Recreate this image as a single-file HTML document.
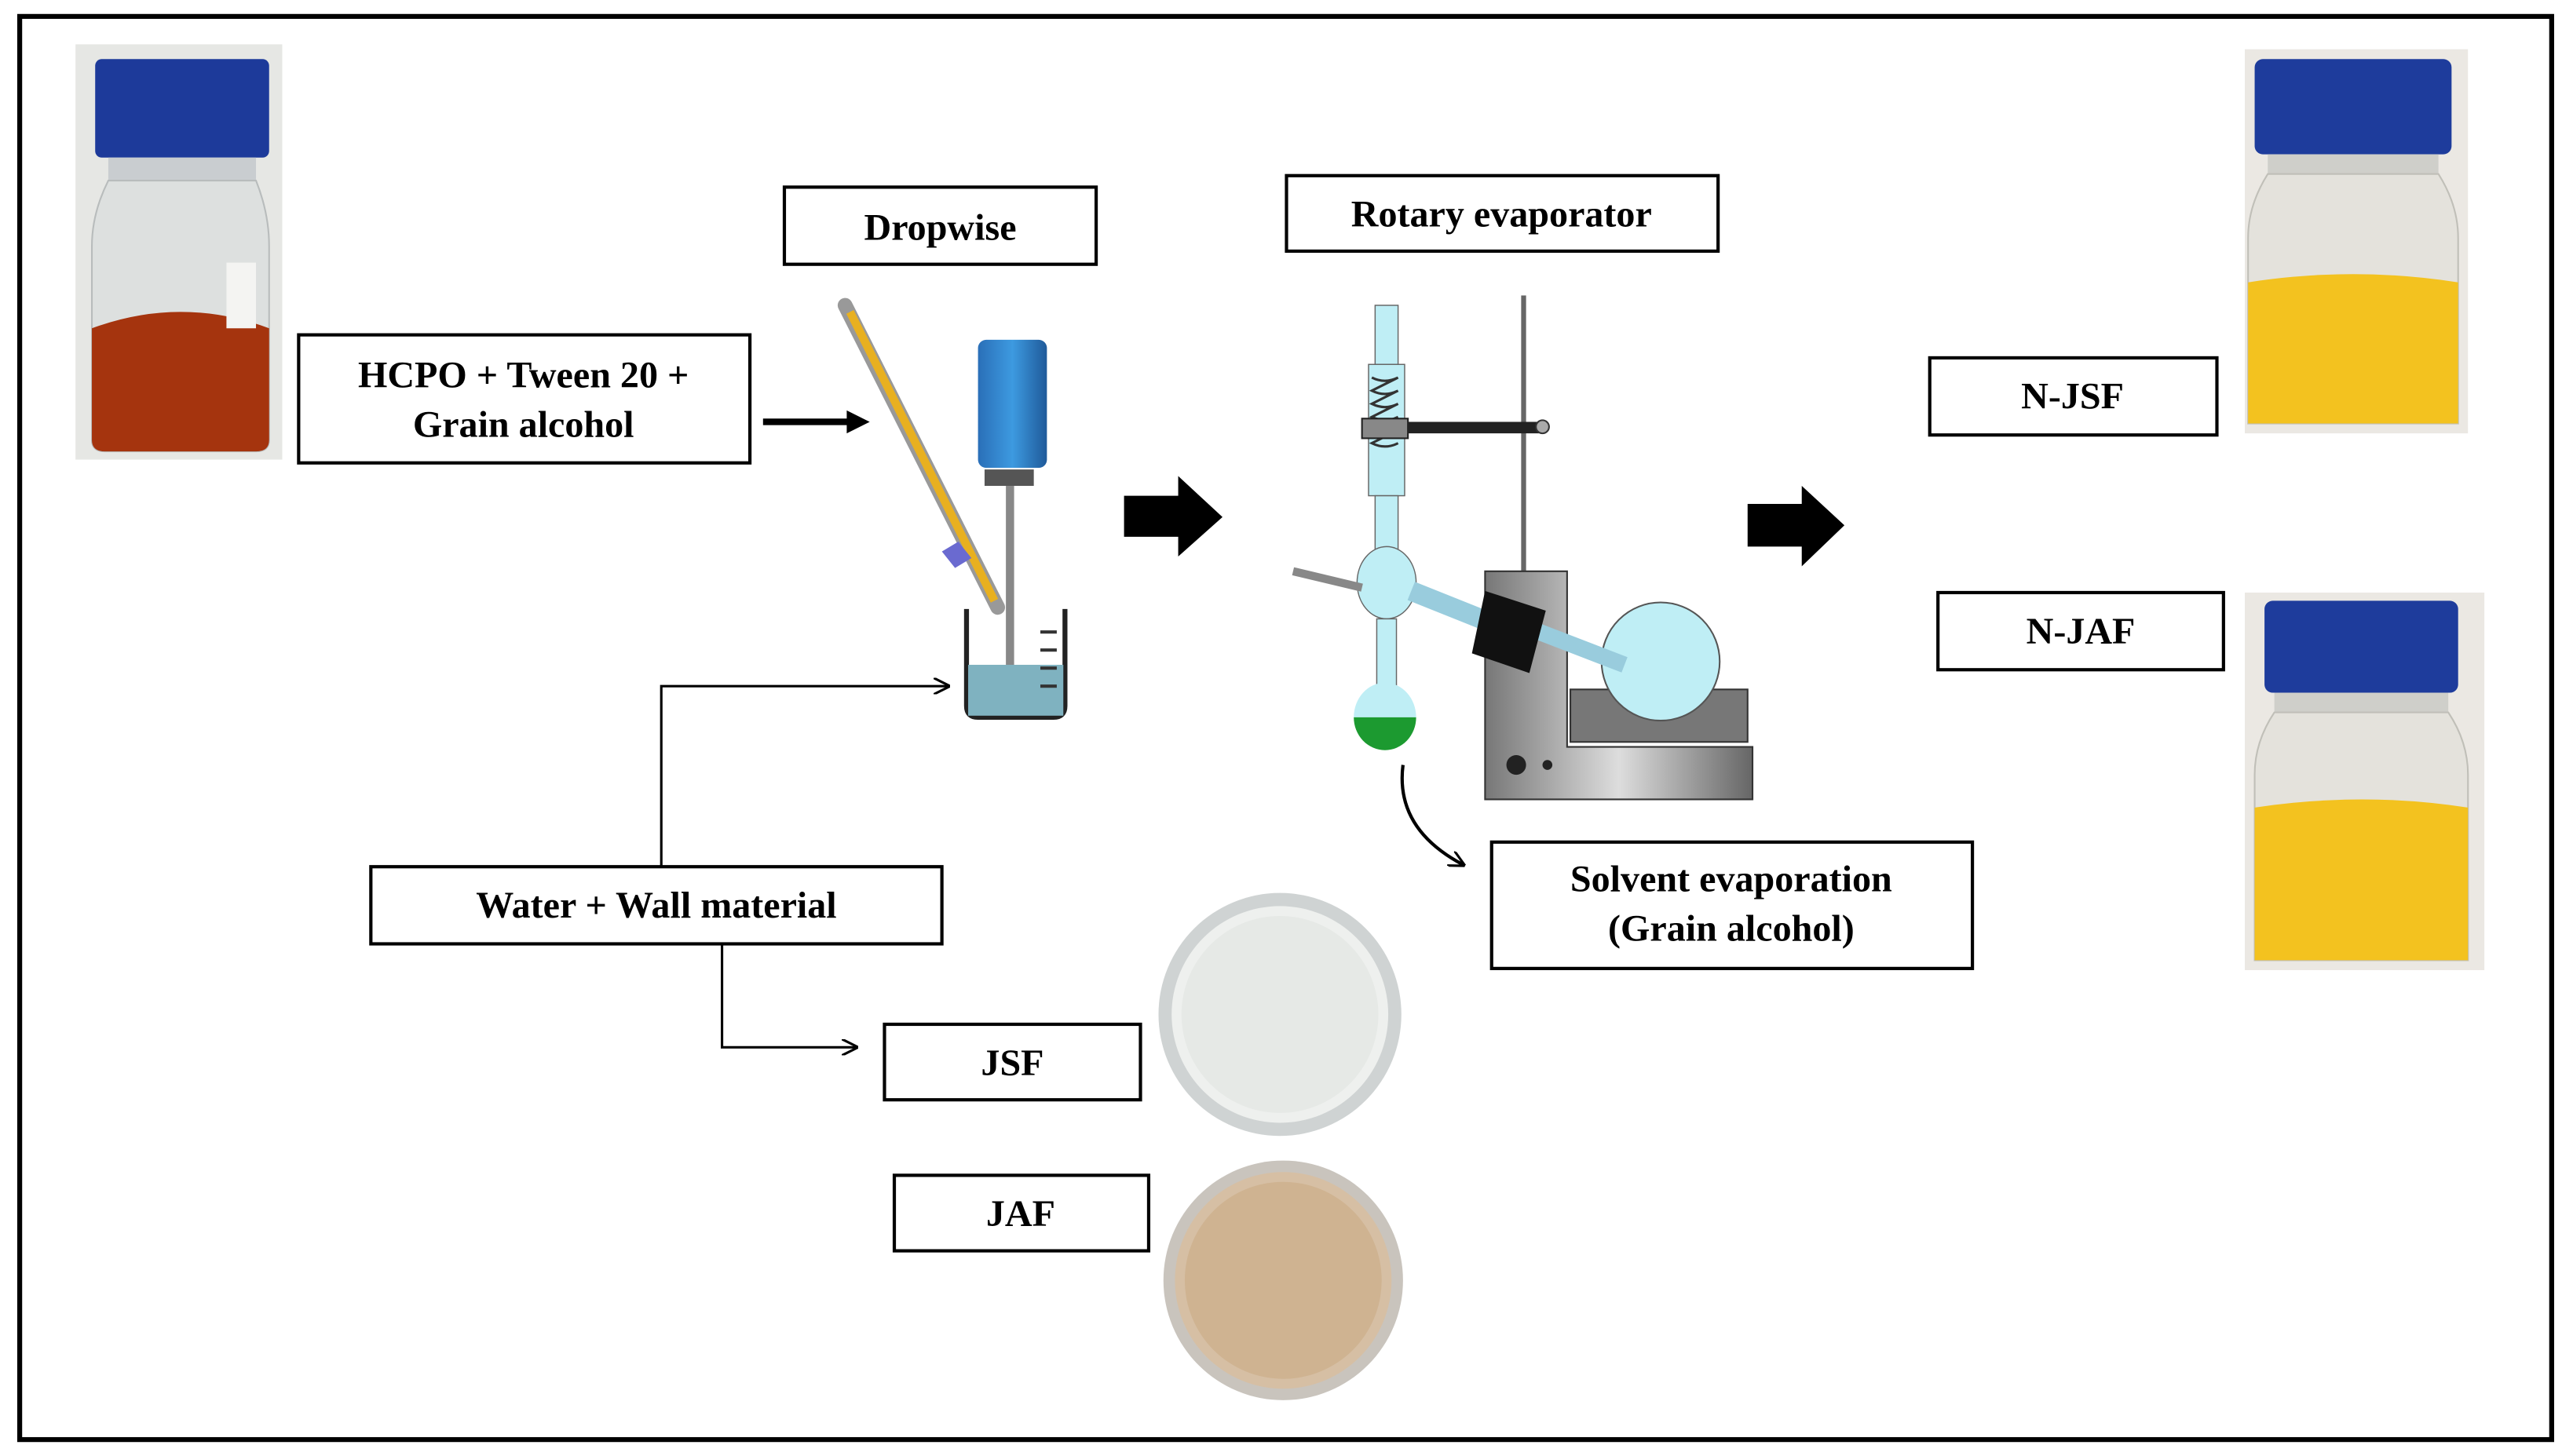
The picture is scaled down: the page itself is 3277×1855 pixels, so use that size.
<!DOCTYPE html>
<html><head><meta charset="utf-8"><style>html,body{margin:0;padding:0;background:#fff}svg{display:block}</style></head>
<body>
<svg width="3277" height="1855" viewBox="0 0 1568 887" preserveAspectRatio="none" xmlns="http://www.w3.org/2000/svg" font-family="'Liberation Serif',serif" font-weight="bold">
<defs>
<marker id="ah" markerWidth="10" markerHeight="10" refX="9" refY="5" orient="auto" markerUnits="userSpaceOnUse"><path d="M0,0 L10,5 L0,10" fill="none" stroke="#000" stroke-width="1.5"/></marker>
<linearGradient id="gm" x1="0" x2="1"><stop offset="0" stop-color="#777"/><stop offset=".5" stop-color="#ddd"/><stop offset="1" stop-color="#666"/></linearGradient>
<linearGradient id="blue" x1="0" x2="1"><stop offset="0" stop-color="#2a6fb8"/><stop offset=".5" stop-color="#3d9ae0"/><stop offset="1" stop-color="#1f5a9a"/></linearGradient>
</defs>
<rect x="12" y="10" width="1543" height="867" fill="#fff" stroke="#000" stroke-width="3"/>

<!-- bottle left -->
<rect x="46" y="27" width="126" height="253" fill="#e6e7e4"/>
<rect x="58" y="36" width="106" height="60" rx="4" fill="#1d3a9a"/>
<rect x="66" y="96" width="90" height="14" fill="#c9cdd0"/>
<path d="M66,110 Q56,130 56,150 L56,268 Q56,275 64,275 L156,275 Q164,275 164,268 L164,150 Q164,130 156,110Z" fill="#dde0df" stroke="#b8bcbc"/>
<path d="M56,200 Q110,180 164,200 L164,268 Q164,275 156,275 L64,275 Q56,275 56,268Z" fill="#a5340e"/>
<rect x="138" y="160" width="18" height="40" fill="#f4f4f2"/>

<!-- bottles right -->
<rect x="1368" y="30" width="136" height="234" fill="#ebe8e3"/>
<rect x="1374" y="36" width="120" height="58" rx="5" fill="#1e3c9c"/>
<rect x="1382" y="94" width="104" height="12" fill="#cfcfca"/>
<path d="M1382,106 Q1370,125 1370,145 L1370,258 L1498,258 L1498,145 Q1498,125 1486,106Z" fill="#e4e2dc" stroke="#c0bfb8"/>
<path d="M1370,172 Q1434,162 1498,172 L1498,258 L1370,258Z" fill="#f3c21f"/>
<rect x="1368" y="361" width="146" height="230" fill="#ebe8e3"/>
<rect x="1380" y="366" width="118" height="56" rx="5" fill="#1e3c9c"/>
<rect x="1386" y="422" width="106" height="12" fill="#cfcfca"/>
<path d="M1386,434 Q1374,452 1374,472 L1374,585 L1504,585 L1504,472 Q1504,452 1492,434Z" fill="#e4e2dc" stroke="#c0bfb8"/>
<path d="M1374,492 Q1440,482 1504,492 L1504,585 L1374,585Z" fill="#f3c21f"/>

<!-- boxes -->
<g fill="#fff" stroke="#000" stroke-width="2">
<rect x="182" y="204" width="275" height="78"/>
<rect x="478" y="114" width="190" height="47"/>
<rect x="784" y="107" width="263" height="46"/>
<rect x="1176" y="218" width="175" height="47"/>
<rect x="1181" y="361" width="174" height="47"/>
<rect x="226" y="528" width="348" height="47"/>
<rect x="539" y="624" width="156" height="46"/>
<rect x="545" y="716" width="155" height="46"/>
<rect x="909" y="513" width="293" height="77"/>
</g>
<g font-size="23" text-anchor="middle" fill="#000">
<text x="319" y="236">HCPO + Tween 20 +</text>
<text x="319" y="266">Grain alcohol</text>
<text x="573" y="146">Dropwise</text>
<text x="915" y="138">Rotary evaporator</text>
<text x="1263" y="249">N-JSF</text>
<text x="1268" y="392">N-JAF</text>
<text x="400" y="559">Water + Wall material</text>
<text x="617" y="655">JSF</text>
<text x="622" y="747">JAF</text>
<text x="1055" y="543">Solvent evaporation</text>
<text x="1055" y="573">(Grain alcohol)</text>
</g>

<!-- arrows -->
<path d="M465,257 L520,257" stroke="#000" stroke-width="4"/><path d="M516,250 L530,257 L516,264Z"/>
<path d="M685,302 L718,302 L718,290 L745,315 L718,339 L718,327 L685,327Z"/>
<path d="M1065,307 L1098,307 L1098,296 L1124,320 L1098,345 L1098,333 L1065,333Z"/>
<path d="M403,528 L403,418 L578,418" fill="none" stroke="#000" stroke-width="1.5" marker-end="url(#ah)"/>
<path d="M440,575 L440,638 L522,638" fill="none" stroke="#000" stroke-width="1.5" marker-end="url(#ah)"/>
<path d="M855,466 Q850,505 892,527" fill="none" stroke="#000" stroke-width="2" marker-end="url(#ah)"/>

<!-- stirrer -->
<path d="M515,186 L608,370" stroke="#999" stroke-width="9" stroke-linecap="round"/>
<path d="M518,190 L606,366" stroke="#e8b020" stroke-width="5"/>
<rect x="596" y="207" width="42" height="78" rx="5" fill="url(#blue)"/>
<rect x="600" y="286" width="30" height="10" fill="#555"/>
<rect x="613" y="296" width="5" height="120" fill="#888"/>
<path d="M574,336 l10,-6 l8,10 l-10,6z" fill="#6a6ad0"/>
<path d="M589,371 L589,430 Q589,437 596,437 L642,437 Q649,437 649,430 L649,371" fill="none" stroke="#222" stroke-width="3"/>
<rect x="590" y="405" width="58" height="31" fill="#7fb2c0"/>
<g stroke="#333" stroke-width="2"><path d="M634,385h10M634,396h10M634,407h10M634,418h10"/></g>

<!-- rotary evaporator -->
<rect x="927" y="180" width="3" height="170" fill="#666"/>
<rect x="838" y="186" width="14" height="36" fill="#bfeef5" stroke="#666" stroke-width=".7"/>
<rect x="834" y="222" width="22" height="80" fill="#bfeef5" stroke="#666" stroke-width=".7"/>
<path d="M836,230 q8,4 16,0 q-8,4 -16,8 q8,4 16,0 q-8,4 -16,8 q8,4 16,0 q-8,4 -16,8 q8,4 16,0 q-8,4 -16,8 q8,4 16,0 q-8,4 -16,8 q8,4 16,0" fill="none" stroke="#333" stroke-width="1.5"/>
<rect x="830" y="255" width="28" height="12" fill="#888" stroke="#222"/>
<rect x="858" y="257" width="80" height="7" fill="#222"/>
<circle cx="940" cy="260" r="4" fill="#aaa" stroke="#333"/>
<rect x="838" y="302" width="14" height="40" fill="#bfeef5" stroke="#666" stroke-width=".7"/>
<ellipse cx="845" cy="355" rx="18" ry="22" fill="#bfeef5" stroke="#666" stroke-width=".7"/>
<path d="M788,348 L830,358" stroke="#888" stroke-width="5"/>
<path d="M860,360 L905,378" stroke="#9cd" stroke-width="12"/>
<rect x="839" y="377" width="12" height="44" fill="#bfeef5" stroke="#666" stroke-width=".7"/>
<path d="M825,437 A18,20 0 0 1 863,437Z" fill="#bfeef5"/>
<path d="M825,437 A19,20 0 0 0 863,437Z" fill="#1c9a30"/>
<path d="M905,348 L955,348 L955,455 L1068,455 L1068,487 L905,487Z" fill="url(#gm)" stroke="#333"/>
<rect x="957" y="420" width="108" height="32" fill="#777" stroke="#333"/>
<circle cx="1012" cy="403" r="36" fill="#bfeef5" stroke="#555"/>
<path d="M938,385 L990,405" stroke="#9cd" stroke-width="10"/>
<path d="M905,360 L942,372 L932,410 L897,398Z" fill="#111"/>
<circle cx="924" cy="466" r="6" fill="#222"/><circle cx="943" cy="466" r="3" fill="#222"/>

<!-- petri dishes -->
<circle cx="780" cy="618" r="74" fill="#cfd3d3"/>
<circle cx="780" cy="618" r="66" fill="#eef0ee"/>
<circle cx="780" cy="618" r="60" fill="#e6e9e6"/>
<circle cx="782" cy="780" r="73" fill="#c9c4bd"/>
<circle cx="782" cy="780" r="66" fill="#d6bfa4"/>
<circle cx="782" cy="780" r="60" fill="#cfb391"/>
</svg>
</body></html>
